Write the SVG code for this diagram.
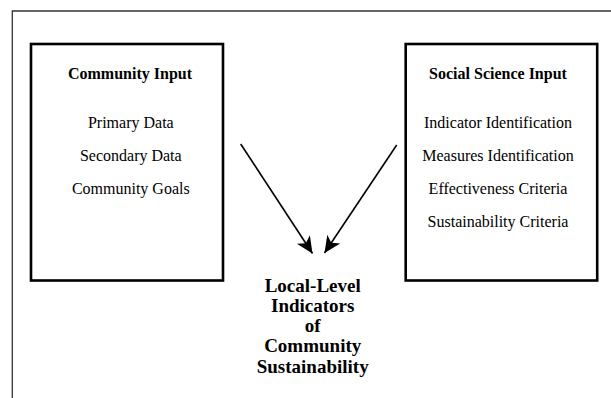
<svg xmlns="http://www.w3.org/2000/svg" width="611" height="398" viewBox="0 0 611 398">
<style>
.frame{fill:none;stroke:#333;stroke-width:1.3}
.box{fill:#fff;stroke:#000;stroke-width:2.6}
.title{font-family:"Liberation Serif","Times New Roman",serif;font-size:16px;font-weight:bold;fill:#000;text-anchor:middle}
.item{font-family:"Liberation Serif","Times New Roman",serif;font-size:16px;fill:#000;text-anchor:middle}
.out{font-family:"Liberation Serif","Times New Roman",serif;font-size:19px;font-weight:bold;fill:#000;text-anchor:middle}
.conn{stroke:#000;stroke-width:1.6;fill:none;marker-end:url(#ah)}
</style>
<defs>
<marker id="ah" markerUnits="userSpaceOnUse" markerWidth="20" markerHeight="20" viewBox="-16 -8 18 16" refX="0" refY="0" orient="auto">
<path d="M0,0 L-15,-7 L-11,0 L-15,7 Z" fill="#000"/>
</marker>
</defs>
<rect width="611" height="398" fill="#fff"/>
<path class="frame" d="M12.3,398 L12.3,11 L611,11"/>
<g id="community-input">
<rect class="box" x="31" y="44" width="192" height="236.5"/>
<text class="title" x="130" y="78.5">Community Input</text>
<text class="item" x="130.8" y="127.5">Primary Data</text>
<text class="item" x="130.8" y="160.5">Secondary Data</text>
<text class="item" x="130.8" y="193.5">Community Goals</text>
</g>
<g id="social-science-input">
<rect class="box" x="405.7" y="44" width="191.5" height="236.5"/>
<text class="title" x="498" y="78.5">Social Science Input</text>
<text class="item" x="498" y="127.5">Indicator Identification</text>
<text class="item" x="498" y="160.5">Measures Identification</text>
<text class="item" x="498" y="193.5">Effectiveness Criteria</text>
<text class="item" x="498" y="227">Sustainability Criteria</text>
</g>
<g id="indicators">
<text class="out" x="312.7" y="291.5">Local-Level</text>
<text class="out" x="312.7" y="311.8">Indicators</text>
<text class="out" x="312.7" y="332">of</text>
<text class="out" x="312.7" y="352.3">Community</text>
<text class="out" x="312.7" y="372.6">Sustainability</text>
</g>
<g id="connectors">
<line class="conn" x1="240.7" y1="144" x2="312.5" y2="253.5"/>
<line class="conn" x1="396.7" y1="145" x2="324.5" y2="253"/>
</g>
</svg>
